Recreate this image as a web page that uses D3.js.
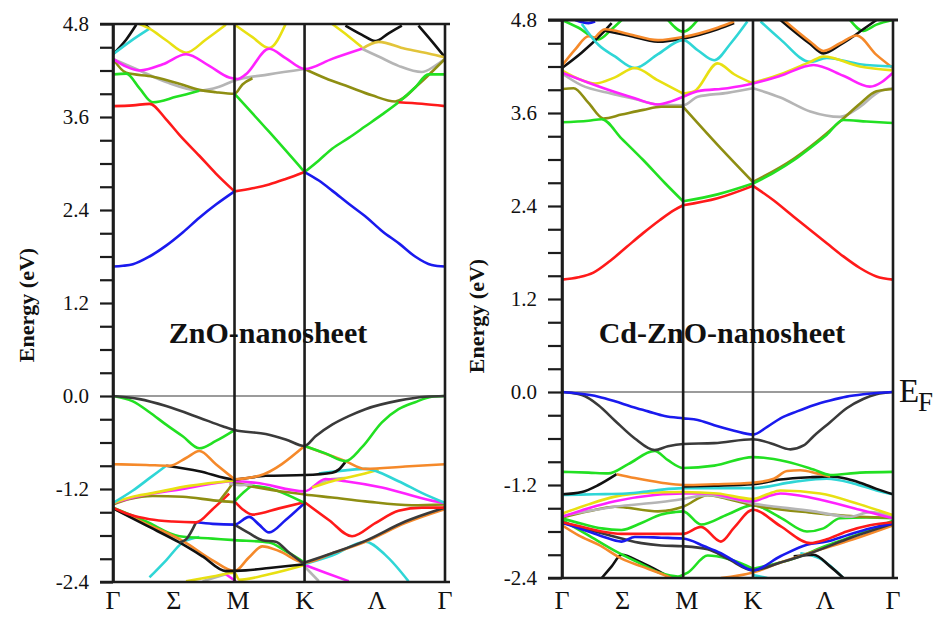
<!DOCTYPE html>
<html><head><meta charset="utf-8">
<script src="https://cdn.jsdelivr.net/npm/d3@7"></script>
<style>body{margin:0;background:#fff}svg{display:block}</style>
</head><body>
<svg id="c" width="934" height="617"></svg>
<script>
// ---------- axis data ----------
const kLabels = ["Γ","Σ","M","K","Λ","Γ"];
const kLabelPos = [0,18.3,37.7,57.7,79.5,100];
const kSym = [0,36.6,57.7,100];
const yTickValues = [-2.4,-1.2,0,1.2,2.4,3.6,4.8];
const yTickLabels = ["-2.4","-1.2","0.0","1.2","2.4","3.6","4.8"];
const yMinorTicks = [-2.4,-2.1,-1.8,-1.5,-1.2,-0.9,-0.6,-0.3,0,0.3,0.6,0.9,1.2,1.5,1.8,2.1,2.4,2.7,3.0,3.3,3.6,3.9,4.2,4.5,4.8];
const titles = ["ZnO-nanosheet","Cd-ZnO-nanosheet"];

// ---------- ZnO nanosheet bands [k(% of path), E(eV)] ----------
const zBlueA=[[0,1.67],[3,1.68],[6,1.70],[11,1.80],[16,1.94],[21,2.11],[26,2.30],[31,2.47],[36.6,2.64]];
const zBlueB=[[57.7,2.89],[62,2.78],[66,2.65],[71,2.48],[76.5,2.30],[81,2.13],[86.4,1.96],[91,1.80],[96,1.69],[100,1.67]];
const zRedA=[[0,3.74],[6,3.75],[11,3.77],[16,3.57],[20,3.37],[26,3.10],[31,2.87],[36.6,2.64]];
const zRedB=[[36.6,2.64],[42,2.68],[47,2.73],[52,2.80],[57.7,2.89]];
const zRedC=[[86,3.79],[93,3.77],[100,3.74]];
const zGreenA=[[0,4.15],[4,4.16],[8,3.97],[12,3.79],[19,3.86],[26,3.94]];
const zGreenB=[[36.6,3.90],[47,3.41],[57.7,2.89]];
const zGreenC=[[57.7,2.89],[62,3.04],[66,3.19],[71,3.33],[76,3.48],[81,3.63],[86,3.79],[91,3.98],[95,4.15],[100,4.15]];
const zOliveA=[[0,4.35],[4,4.17],[12,4.12],[20,4.03],[26,3.95],[31,3.92],[36.6,3.90],[39,4.02],[42,4.10]];
const zGrayA=[[0,4.35],[8,4.20],[16,4.05],[26,3.94],[32,3.99],[36.6,4.07],[47,4.15],[57.7,4.22]];
const zOliveB=[[57.7,4.22],[64,4.10],[71,3.99],[78,3.88],[85,3.80],[92,4.02],[96,4.18],[100,4.35]];
const zGrayB=[[75,4.48],[80,4.38],[86,4.26],[93,4.18],[97,4.26],[100,4.35]];
const zMagentaA=[[0,4.35],[4,4.25],[8,4.20],[15,4.28],[22,4.41],[29,4.26],[35,4.11],[37.5,4.09],[40,4.15],[47,4.48],[52,4.36],[57.7,4.22],[66,4.35],[75,4.48]];
const zGoldA=[[75,4.48],[80,4.57],[88,4.48],[95,4.42],[100,4.37]];
const zYellowA=[[8,4.80],[11,4.74],[16,4.59],[22,4.43],[28,4.60],[34,4.79]];
const zYellowB=[[37,4.78],[42,4.63],[47,4.49],[52,4.80]];
const zYellowC=[[66,4.80],[71,4.64],[75,4.50]];
const zBlackA=[[0,4.41],[4,4.60],[7,4.79]];
const zBlackA2=[[9.5,4.80],[11,4.74]];
const zBlackB=[[70,4.78],[75,4.66],[79,4.58],[83,4.68],[87,4.78]];
const zBlackC=[[92,4.78],[96,4.58],[100,4.37]];
const zCyanTop=[[0,4.41],[5,4.57],[11,4.74]];
// valence
const zDark1=[[0,0],[8,-0.04],[16,-0.13],[26,-0.28],[33,-0.39],[36.6,-0.44],[46,-0.49],[52,-0.56],[57.7,-0.645],[61,-0.52],[66,-0.37],[71,-0.26],[76,-0.17],[86,-0.06],[94,-0.01],[100,0]];
const zGreen1L=[[0,0],[6,-0.07],[11,-0.21],[16,-0.37],[21,-0.52],[26,-0.675],[31,-0.58],[36.6,-0.44]];
const zGreen1R=[[57.7,-0.645],[64,-0.74],[70,-0.84],[75,-0.66],[81,-0.34],[86,-0.17],[91,-0.08],[96,-0.01],[100,0]];
const zOrange1L=[[0,-0.88],[10,-0.89],[17,-0.90],[22,-0.80],[26,-0.71],[31,-0.88],[36.6,-1.075]];
const zOrange1M=[[36.6,-1.075],[44,-1.03],[57.7,-0.645]];
const zOrange1R=[[57.7,-0.645],[70,-0.84],[76,-0.94],[88,-0.91],[100,-0.88]];
const zBlack2=[[16,-0.90],[26,-0.97],[36.6,-1.075],[46,-1.03],[57.7,-1.02],[66,-0.99],[68,-0.95],[70,-0.85]];
const zCyan1L=[[0,-1.38],[6,-1.22],[11,-1.06],[16,-0.90]];
const zCyan1R=[[62,-1.0],[70,-0.96],[76,-0.94],[86,-1.10],[93,-1.25],[100,-1.38]];
const zYellow1L=[[0,-1.38],[6,-1.30],[11,-1.26],[23,-1.16],[36.6,-1.09]];
const zYellow1R=[[60,-1.18],[66,-1.10],[73,-1.03],[80,-0.95]];
const zMagenta1=[[0,-1.38],[6,-1.31],[21,-1.20],[36.6,-1.10],[43,-1.12],[57.7,-1.23],[64,-1.07],[70,-1.10],[81,-1.18],[96,-1.35],[100,-1.38]];
const zGray1A=[[35,-1.13],[38,-1.15],[42,-1.14]];
const zGray1B=[[60,-1.18],[65,-1.08],[70,-1.06]];
const zOlive1=[[0,-1.40],[5,-1.33],[12,-1.29],[21,-1.30],[31,-1.35],[36.6,-1.37]];
const zOlive2=[[32,-1.36],[34.5,-1.22],[36.6,-1.12],[41,-1.16],[46,-1.20],[57.7,-1.27],[66,-1.31],[76,-1.36],[90,-1.41],[100,-1.40]];
const zGreen2=[[36.6,-1.36],[40,-1.22],[42,-1.16],[46,-1.18],[57.7,-1.38]];
const zRed1L=[[0,-1.44],[5,-1.53],[11,-1.59],[18,-1.62],[25,-1.63],[30,-1.46],[35,-1.26]];
const zRed1M=[[36.6,-1.36],[39,-1.46],[42,-1.53],[50,-1.45],[57.7,-1.37]];
const zRed1R=[[57.7,-1.37],[65,-1.60],[72,-1.81],[79,-1.64],[86,-1.48],[93,-1.44],[100,-1.44]];
const zBlue1=[[25,-1.63],[30,-1.65],[36.6,-1.66],[41,-1.56],[44,-1.66],[47,-1.76],[52,-1.60],[57.7,-1.38]];
const zBlackL=[[0,-1.45],[10,-1.67],[20,-1.89],[27,-2.07],[34,-2.26],[40,-2.25],[47,-2.22],[57.7,-2.17]];
const zDark2=[[20,-1.89],[22,-1.85],[25,-1.63]];
const zBlackM=[[36.6,-1.66],[41,-1.77],[45,-1.86],[49,-1.88],[53,-2.02],[57.7,-2.17]];
const zBlackR=[[57.7,-2.15],[66,-2.03],[76,-1.87],[88,-1.62],[100,-1.44]];
const zOrange2=[[0,-1.45],[10,-1.65],[21,-1.87],[30,-2.12],[36.6,-2.26],[41,-2.08],[45,-1.94],[50,-2.00],[57.7,-2.15],[66,-2.03],[76,-1.88],[88,-1.64],[100,-1.46]];
const zGreen3=[[0,-1.44],[10,-1.62],[20,-1.81],[30,-1.84],[36.6,-1.86],[47,-1.89],[52,-2.00],[57.7,-2.15]];
const zCyan2L=[[11,-2.34],[16,-2.12],[21,-1.89],[26,-1.82]];
const zCyan2R=[[57.7,-2.17],[66,-2.06],[76,-1.88],[82,-2.05],[89,-2.39]];
const zMagenta2R=[[57.7,-2.18],[64,-2.28],[71,-2.39]];
const zMagenta2L=[[34,-2.30],[37,-2.39]];
const zYellow2=[[22,-2.39],[30,-2.33],[36.6,-2.28],[38,-2.37],[47,-2.30],[57.7,-2.18]];
const zGray2A=[[27,-2.39],[34,-2.30]];
const zGray2B=[[57.7,-2.20],[62,-2.39]];

// ---------- Cd-ZnO nanosheet bands ----------
const cRedA=[[0,1.45],[5,1.48],[9.5,1.54],[14.5,1.69],[19.5,1.87],[24.5,2.05],[29.6,2.22],[34,2.35],[36.6,2.41]];
const cRedB=[[36.6,2.41],[47,2.50],[57.7,2.66]];
const cRedC=[[57.7,2.66],[64,2.47],[70,2.26],[75,2.09],[80,1.92],[85,1.75],[90,1.60],[95,1.49],[100,1.45]];
const cGreenA=[[0,3.48],[8,3.50],[12,3.52],[18,3.27],[24.6,2.99],[31,2.70],[36.6,2.46]];
const cGreenB=[[36.6,2.46],[47,2.55],[57.7,2.69]];
const cGreenC=[[57.7,2.69],[64,2.83],[70,2.99],[75,3.15],[80,3.32],[85,3.51],[92,3.49],[100,3.47]];
const cOliveA=[[0,3.91],[3.5,3.92],[8,3.73],[12.5,3.53],[18,3.58],[24.6,3.64],[30,3.68],[36.6,3.68]];
const cOliveB=[[36.6,3.68],[47,3.19],[57.7,2.71]];
const cOliveC=[[57.7,2.71],[70,3.01],[80,3.34],[85,3.53],[90,3.72],[95,3.88],[100,3.91]];
const cGrayA=[[0,4.11],[5.8,3.96],[15,3.85],[22,3.78],[29,3.71],[36.6,3.70],[41,3.81],[50,3.86],[57.7,3.92]];
const cGrayB=[[57.7,3.92],[66,3.80],[75,3.62],[84,3.55],[90,3.68],[96,3.88],[100,3.92]];
const cMagentaA=[[0,4.12],[8,3.99],[16,3.87],[22,3.79],[29,3.71],[33,3.75],[36.6,3.81],[41,3.88],[50,3.92],[57.7,3.98],[66,4.08],[76,4.22],[85,4.08],[93,3.94],[100,4.12]];
const cYellowA=[[0,4.15],[5,4.04],[10,3.98],[16,4.06],[22,4.18],[29,4.02],[36.6,3.85]];
const cYellowB=[[36.6,3.85],[40,3.88],[47,4.24],[52,4.10],[57.7,3.98]];
const cYellowC=[[57.7,3.99],[66,4.10],[75,4.26],[79,4.33],[90,4.20],[100,4.15]];
const cCyanA=[[6,4.75],[11,4.48],[16,4.33],[22,4.18],[29,4.36],[36.6,4.54],[41,4.41],[46,4.28],[51,4.50],[56,4.78]];
const cCyanB=[[60,4.78],[66,4.55],[75,4.26],[80,4.31],[90,4.23],[100,4.20]];
const cBlackTopL=[[0,4.18],[6,4.38],[12,4.62],[15,4.76]];
const cOrangeTopL=[[0,4.21],[4,4.42],[8,4.59],[10,4.57]];
const cBlackTop=[[13,4.66],[20,4.60],[29,4.52],[36.6,4.56],[47,4.68],[52,4.76]];
const cOrangeTop=[[10,4.57],[13,4.68],[20,4.62],[29,4.54],[36.6,4.58],[47,4.70],[52,4.78]];
const cBlackR=[[66,4.80],[75,4.49],[79,4.37],[84,4.48],[87,4.56],[91,4.68],[95,4.80]];
const cOrangeR=[[67,4.80],[75,4.52],[79,4.40],[84,4.50],[89,4.60],[95,4.35],[100,4.18]];
const cGreenTopL=[[0,4.80],[5,4.70],[11,4.55],[15,4.68],[18,4.80]];
const cGreenTopM=[[32,4.80],[36.6,4.65],[41,4.80]];
const cGreenTopR=[[87,4.80],[91,4.66],[95,4.74],[100,4.80]];
const cBlueTop=[[4,4.80],[8,4.76],[10,4.78]];
// valence
const cBlue1=[[0,0],[5,-0.02],[11,-0.06],[16,-0.12],[21,-0.19],[26,-0.25],[31,-0.31],[36.6,-0.34],[41,-0.36],[46,-0.43],[52,-0.50],[57.7,-0.55],[62,-0.45],[66,-0.34],[71,-0.25],[76,-0.17],[81,-0.11],[86,-0.06],[91,-0.03],[96,-0.01],[100,0]];
const cDark1=[[0,0],[6,-0.04],[11,-0.17],[16,-0.37],[22,-0.60],[28,-0.75],[32,-0.70],[36.6,-0.67],[46,-0.66],[57.7,-0.61],[63,-0.66],[69,-0.74],[73,-0.69],[76,-0.57],[81,-0.39],[86,-0.21],[91,-0.09],[95,-0.03],[100,0]];
const cGreen1=[[0,-1.03],[8,-1.04],[14,-1.05],[20,-0.93],[28,-0.76],[32,-0.88],[36.6,-0.98],[46,-0.95],[57.7,-0.84],[68,-0.90],[76,-1.00],[81,-1.07],[90,-1.04],[100,-1.03]];
const cBlack1L=[[0,-1.32],[6,-1.29],[11,-1.20],[16.5,-1.06]];
const cOrange1=[[16.5,-1.06],[22,-1.11],[30,-1.17],[36.6,-1.20],[46,-1.19],[57.7,-1.17],[64,-1.12],[68,-1.02],[72,-1.01],[77,-1.05],[81,-1.09]];
const cBlack1R=[[36.6,-1.22],[46,-1.21],[57.7,-1.19],[66,-1.13],[75,-1.10],[81,-1.09],[86,-1.12],[90,-1.17],[95,-1.25],[100,-1.32]];
const cCyan1=[[0,-1.33],[10,-1.32],[19.5,-1.31],[28,-1.27],[36.6,-1.24],[57.7,-1.24],[70,-1.16],[80,-1.12],[88,-1.18],[95,-1.27],[100,-1.32]];
const cYellow1=[[0,-1.57],[8,-1.45],[16,-1.35],[26,-1.30],[36.6,-1.29],[47,-1.31],[57.7,-1.38],[62,-1.32],[66,-1.27],[78,-1.31],[90,-1.45],[100,-1.59]];
const cMagenta1=[[0,-1.61],[8,-1.50],[16,-1.41],[28,-1.33],[36.6,-1.31],[44,-1.31],[57.7,-1.41],[62,-1.35],[66,-1.31],[76,-1.37],[90,-1.52],[100,-1.63]];
const cGray2=[[0,-1.60],[16,-1.48],[30,-1.42],[36.6,-1.38],[44,-1.33],[57.7,-1.44],[76,-1.54],[87,-1.61],[93,-1.55],[100,-1.60]];
const cOlive1=[[0,-1.62],[8,-1.54],[16,-1.48],[29,-1.54],[36.6,-1.48],[44,-1.33],[50,-1.38],[57.7,-1.46],[76,-1.56],[90,-1.61],[100,-1.62]];
const cGreen2=[[0,-1.63],[6,-1.70],[12,-1.76],[18,-1.78],[24,-1.69],[30,-1.58],[34,-1.55],[36.6,-1.54],[42,-1.71],[50,-1.58],[57.7,-1.46],[66,-1.62],[74,-1.80],[79,-1.76],[84,-1.63],[92,-1.62],[100,-1.63]];
const cRed1=[[0,-1.68],[6,-1.74],[12,-1.80],[18,-1.83],[30,-1.83],[36.6,-1.83],[42,-1.74],[48,-1.93],[52,-1.75],[57.7,-1.52],[66,-1.73],[75,-1.95],[80,-1.90],[86,-1.80],[93,-1.72],[100,-1.68]];
const cBlue2=[[0,-1.69],[6,-1.77],[12,-1.86],[18,-1.93],[22,-1.87],[30,-1.88],[36.6,-1.89],[43,-1.99],[48,-2.08],[52,-2.18],[57.7,-2.30],[66,-2.12],[74,-1.97],[80,-1.93],[86,-1.85],[93,-1.76],[100,-1.70]];
const cDark2=[[0,-1.68],[10,-1.80],[18,-1.89],[24,-1.95],[30,-1.98],[36.6,-1.99],[44,-2.03],[50,-2.15],[57.7,-2.30],[66,-2.20],[75,-2.08],[86,-1.90],[100,-1.70]];
const cOrange2L=[[0,-1.72],[5,-1.85],[11,-1.97],[18,-2.15],[24,-2.25],[29,-2.33],[33,-2.40]];
const cOrange2R=[[48,-2.40],[57.7,-2.33],[66,-2.20],[76,-2.06],[88,-1.90],[100,-1.72]];
const cGreen3=[[0,-1.65],[8,-1.85],[16,-2.05],[24,-2.22],[30,-2.34],[35,-2.38],[38,-2.33],[44,-2.11],[50,-2.15],[57.7,-2.28]];
const cGreen4=[[57.7,-2.28],[70,-2.15],[80,-1.98],[90,-1.83],[100,-1.66]];
const cBlack3=[[12,-2.40],[15,-2.25],[18,-2.10],[24,-2.20],[30,-2.33],[33,-2.40]];
const cBlack3R=[[70,-2.12],[76,-2.10],[81,-2.25],[85,-2.40]];
const cCyan2=[[72,-2.08],[78,-2.15],[85,-2.40]];
const cCyan3=[[57.7,-2.36],[62,-2.40]];

// ---------- colours ----------
const palette={red:"#ff1a1a",blue:"#1a1aee",green:"#22e022",dark:"#3a3a3a",black:"#111",cyan:"#2fd6d6",
  yellow:"#e8e012",magenta:"#ff22ff",olive:"#8e8e12",gray:"#b5b5b5",orange:"#f5892a",gold:"#e2c43a"};

const znoSeries=[
 [zGray2A,"gray"],[zGray2B,"gray"],[zMagenta2L,"magenta"],[zMagenta2R,"magenta"],[zYellow2,"yellow"],
 [zCyan2L,"cyan"],[zCyan2R,"cyan"],[zGreen3,"green"],[zOrange2,"orange"],[zBlackL,"black"],[zBlackR,"dark"],[zBlackM,"dark"],[zDark2,"dark"],
 [zBlue1,"blue"],[zRed1L,"red"],[zRed1M,"red"],[zRed1R,"red"],[zGreen2,"green"],[zOlive1,"olive"],[zOlive2,"olive"],
 [zGray1A,"gray"],[zGray1B,"gray"],[zMagenta1,"magenta"],[zYellow1L,"yellow"],[zYellow1R,"yellow"],[zCyan1L,"cyan"],[zCyan1R,"cyan"],
 [zBlack2,"black"],[zOrange1L,"orange"],[zOrange1M,"orange"],[zOrange1R,"orange"],[zGreen1L,"green"],[zGreen1R,"green"],[zDark1,"dark"],
 [zBlackA,"black"],[zBlackA2,"black"],[zBlackB,"black"],[zBlackC,"black"],[zCyanTop,"cyan"],[zYellowA,"yellow"],[zYellowB,"yellow"],[zYellowC,"yellow"],
 [zGoldA,"gold"],[zGrayA,"gray"],[zGrayB,"gray"],[zOliveA,"olive"],[zOliveB,"olive"],[zMagentaA,"magenta"],
 [zGreenA,"green"],[zGreenB,"green"],[zGreenC,"green"],[zRedA,"red"],[zRedB,"red"],[zRedC,"red"],[zBlueA,"blue"],[zBlueB,"blue"]
];
const cdSeries=[
 [cCyan3,"cyan"],[cCyan2,"cyan"],[cBlack3,"black"],[cBlack3R,"black"],[cGreen4,"green"],[cGreen3,"green"],[cOrange2L,"orange"],[cOrange2R,"orange"],
 [cDark2,"dark"],[cBlue2,"blue"],[cRed1,"red"],[cGreen2,"green"],[cOlive1,"olive"],[cGray2,"gray"],[cMagenta1,"magenta"],[cYellow1,"yellow"],
 [cCyan1,"cyan"],[cBlack1R,"black"],[cBlack1L,"black"],[cOrange1,"orange"],[cGreen1,"green"],[cDark1,"dark"],[cBlue1,"blue"],
 [cBlueTop,"blue"],[cGreenTopL,"green"],[cGreenTopM,"green"],[cGreenTopR,"green"],[cBlackTopL,"black"],[cOrangeTopL,"orange"],
 [cBlackTop,"black"],[cOrangeTop,"orange"],[cBlackR,"black"],[cOrangeR,"orange"],[cCyanA,"cyan"],[cCyanB,"cyan"],
 [cYellowA,"yellow"],[cYellowB,"yellow"],[cYellowC,"yellow"],[cGrayA,"gray"],[cGrayB,"gray"],[cMagentaA,"magenta"],
 [cOliveA,"olive"],[cOliveB,"olive"],[cOliveC,"olive"],[cGreenA,"green"],[cGreenB,"green"],[cGreenC,"green"],
 [cRedA,"red"],[cRedB,"red"],[cRedC,"red"]
];

const svg=d3.select("#c");
const serif="'Liberation Serif','Times New Roman',serif";

function drawPanel(p, series, title, id){
  const x=d3.scaleLinear().domain([0,100]).range([p.x0,p.x1]);
  const y=d3.scaleLinear().domain([-2.4,4.8]).range([p.yBot,p.yTop]);
  const g=svg.append("g");
  svg.append("clipPath").attr("id",id).append("rect")
    .attr("x",p.x0).attr("y",p.yTop).attr("width",p.x1-p.x0).attr("height",p.yBot-p.yTop);
  g.append("line").attr("x1",x(0)).attr("x2",x(100)).attr("y1",y(0)).attr("y2",y(0))
    .attr("stroke","#7a7a7a").attr("stroke-width",1.3);
  const line=d3.line().x(d=>x(d[0])).y(d=>y(d[1])).curve(d3.curveMonotoneX);
  const bg=g.append("g").attr("clip-path",`url(#${id})`);
  series.forEach(([pts,col])=>{
    bg.append("path").attr("d",line(pts)).attr("fill","none")
      .attr("stroke",palette[col]).attr("stroke-width",2.6).attr("stroke-linejoin","round");
  });
  kSym.forEach(k=>{
    g.append("line").attr("x1",x(k)).attr("x2",x(k)).attr("y1",y(4.8)).attr("y2",y(-2.4))
      .attr("stroke","#1c1c1c").attr("stroke-width",2.6);
  });
  g.append("line").attr("x1",p.lx0).attr("x2",p.lx1).attr("y1",y(4.8)).attr("y2",y(4.8))
    .attr("stroke","#1c1c1c").attr("stroke-width",p.topW);
  g.append("line").attr("x1",p.lx0).attr("x2",p.lx1).attr("y1",y(-2.4)).attr("y2",y(-2.4))
    .attr("stroke","#1c1c1c").attr("stroke-width",2.6);
  const ax=d3.axisLeft(y).tickValues(yMinorTicks).tickSize(p.x0-p.lx0).tickSizeOuter(0).tickPadding(11)
    .tickFormat(d=>{const i=yTickValues.findIndex(v=>Math.abs(v-d)<1e-6);return i>=0?yTickLabels[i]:"";});
  const ag=g.append("g").attr("transform",`translate(${p.x0},0)`).call(ax);
  ag.select(".domain").attr("stroke","#1c1c1c").attr("stroke-width",2.6);
  ag.selectAll(".tick line").attr("stroke","#1c1c1c").attr("stroke-width",2.2);
  ag.selectAll(".tick text").attr("font-family",serif).attr("font-size",21).attr("fill","#111");
  kLabels.forEach((lab,i)=>{
    g.append("text").attr("x",x(kLabelPos[i])).attr("y",609).attr("text-anchor","middle")
      .attr("font-family",serif).attr("font-size",26).attr("fill","#111").text(lab);
  });
  g.append("text").attr("x",p.tx).attr("y",343).attr("text-anchor","middle")
    .attr("font-family",serif).attr("font-weight","bold").attr("font-size",30).attr("fill","#111").text(title);
  g.append("text").attr("transform",`translate(${p.yl},${p.ylc}) rotate(-90)`).attr("text-anchor","middle")
    .attr("font-family",serif).attr("font-weight","bold").attr("font-size",22).attr("fill","#111").text("Energy (eV)");
  return {x,y};
}

drawPanel({x0:113,x1:445,yTop:24,yBot:582,lx0:100,lx1:450,topW:2.4,tx:268,yl:34,ylc:305}, znoSeries, titles[0], "clipA");
drawPanel({x0:562,x1:893,yTop:20,yBot:578,lx0:548,lx1:898,topW:3.2,tx:722,yl:484,ylc:316}, cdSeries, titles[1], "clipB");

// Fermi level label
svg.append("text").attr("x",899).attr("y",402).attr("font-family",serif).attr("font-size",33).attr("fill","#111").text("E");
svg.append("text").attr("x",918).attr("y",411).attr("font-family",serif).attr("font-size",27).attr("fill","#111").text("F");
</script>
</body></html>
